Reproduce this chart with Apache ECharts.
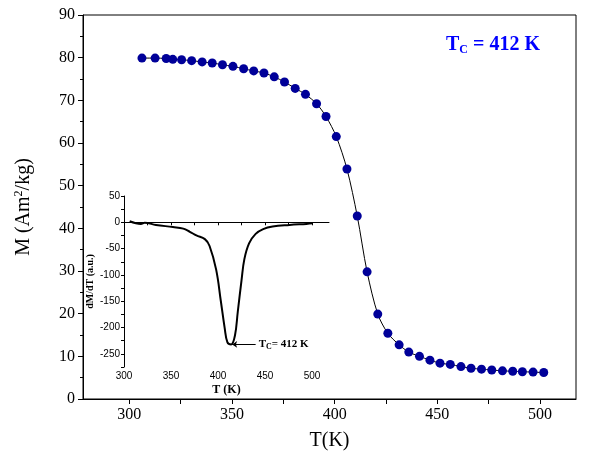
<!DOCTYPE html>
<html>
<head>
<meta charset="utf-8">
<script src="https://cdn.jsdelivr.net/npm/echarts@6/dist/echarts.min.js"></script>
<style>html,body{margin:0;padding:0;background:#fff}#main{width:589px;height:464px}</style>
</head>
<body>
<div id="main"></div>
<script>
// 主图: M(T)
var tempK = [306.2, 312.6, 318.0, 321.2, 325.5, 330.4, 335.5, 340.4, 345.4, 350.5, 355.7, 360.6, 365.6, 370.6, 375.6, 380.8, 385.8, 391.2, 395.8, 400.8, 406.0, 411.0, 415.8, 421.0, 425.9, 431.4, 436.1, 441.3, 446.4, 451.3, 456.3, 461.5, 466.4, 471.5, 476.5, 481.7, 486.7, 491.4, 496.6, 501.8];
var magM = [79.9, 79.9, 79.8, 79.6, 79.5, 79.3, 79.0, 78.75, 78.35, 77.96, 77.4, 76.9, 76.4, 75.5, 74.3, 72.8, 71.4, 69.2, 66.2, 61.5, 53.9, 42.9, 29.8, 19.9, 15.4, 12.7, 11.0, 10.0, 9.1, 8.4, 8.1, 7.6, 7.2, 7.0, 6.8, 6.6, 6.5, 6.4, 6.3, 6.2];
// 插图: dM/dT
var insetT = [306, 318, 322, 334, 352, 363, 370, 377, 386, 391, 398, 403, 407, 410, 414, 418, 421, 425, 428, 433, 440, 448, 458, 476, 494, 501];
var insetD = [2, -3, -1, -5, -9, -12, -18, -25, -32, -45, -90, -150, -200, -228, -232, -215, -170, -110, -70, -40, -22, -13, -8, -5, -3, -2];
var mainXTicks = [300, 350, 400, 450, 500];
var insetXTicks = [300, 350, 400, 450, 500];
var insetYTicks = [-250, -200, -150, -100, -50, 0, 50];

var font = 'Liberation Serif';
var zip = function(a, b){ return a.map(function(v, i){ return [v, b[i]]; }); };

var option = {
	animation: false,
	grid: [
		{left: 83, top: 15, right: 13, bottom: 65, show: true, borderColor: '#000', borderWidth: 1, backgroundColor: 'transparent'},
		{left: 124, top: 196, width: 205, height: 171}
	],
	xAxis: [
		{gridIndex: 0, type: 'value', min: 277.5, max: 517.5,
			name: 'T(K)', nameLocation: 'middle', nameGap: 32, nameTextStyle: {fontFamily: font, fontSize: 20, color: '#000'},
			axisLine: {lineStyle: {color: '#000'}}, splitLine: {show: false},
			axisTick: {customValues: [300, 325, 350, 375, 400, 425, 450, 475, 500], lineStyle: {color: '#000'}},
			axisLabel: {customValues: mainXTicks, fontFamily: font, fontSize: 16, color: '#000'}},
		{gridIndex: 1, type: 'value', min: 300, max: 518,
			name: 'T (K)', nameLocation: 'middle', nameGap: 17, nameTextStyle: {fontFamily: font, fontSize: 12, fontWeight: 'bold', color: '#000'},
			axisLine: {lineStyle: {color: '#000'}}, splitLine: {show: false},
			axisTick: {length: 3, customValues: [300, 325, 350, 375, 400, 425, 450, 475, 500], lineStyle: {color: '#000'}},
			axisLabel: {customValues: insetXTicks, fontFamily: 'Liberation Sans', fontSize: 10, color: '#000', margin: 4}}
	],
	yAxis: [
		{gridIndex: 0, type: 'value', min: 0, max: 90, interval: 10,
			name: '{a|M (Am}{s|2}{a|/kg)}', nameLocation: 'middle', nameGap: 48,
			nameTextStyle: {rich: {a: {fontFamily: font, fontSize: 20, color: '#000'}, s: {fontFamily: font, fontSize: 12, color: '#000', padding: [0, 0, 10, 0]}}},
			axisLine: {lineStyle: {color: '#000'}}, splitLine: {show: false},
			axisTick: {lineStyle: {color: '#000'}}, minorTick: {show: true, splitNumber: 2},
			axisLabel: {fontFamily: font, fontSize: 16, color: '#000'}},
		{gridIndex: 1, type: 'value', min: -275, max: 50,
			name: 'dM/dT (a.u.)', nameLocation: 'middle', nameGap: 29, nameTextStyle: {fontFamily: font, fontSize: 10, fontWeight: 'bold', color: '#000'},
			axisLine: {show: true, lineStyle: {color: '#000'}}, splitLine: {show: false},
			axisTick: {length: 3, customValues: [-275, -250, -225, -200, -175, -150, -125, -100, -75, -50, -25, 0, 25, 50], lineStyle: {color: '#000'}},
			axisLabel: {customValues: insetYTicks, fontFamily: 'Liberation Sans', fontSize: 10, color: '#000', margin: 4}}
	],
	series: [
		{type: 'line', xAxisIndex: 0, yAxisIndex: 0, data: zip(tempK, magM), smooth: 0.3,
			symbol: 'circle', symbolSize: 9, lineStyle: {color: '#000', width: 1}, itemStyle: {color: '#000099'}},
		{type: 'line', xAxisIndex: 1, yAxisIndex: 1, data: zip(insetT, insetD), smooth: 0.4,
			showSymbol: false, lineStyle: {color: '#000', width: 2},
			markLine: {symbol: ['none', 'arrow'], symbolSize: 5, silent: true,
				lineStyle: {color: '#000', width: 1, type: 'solid'},
				label: {position: 'start', distance: 3, formatter: '{a|T}{b|C}{a|= 412 K}',
					rich: {a: {fontFamily: font, fontSize: 11, fontWeight: 'bold', color: '#000'},
						b: {fontFamily: font, fontSize: 8, fontWeight: 'bold', color: '#000', verticalAlign: 'bottom', padding: [6, 0, 0, 0]}}},
				data: [[{coord: [440, -232]}, {coord: [415, -232]}]]}}
	],
	graphic: [
		{type: 'text', left: 446, top: 35, style: {
			text: '{a|T}{b|C}{a| = 412 K}', fill: '#0000ff',
			rich: {a: {fontFamily: font, fontSize: 20, fontWeight: 'bold', fill: '#0000ff'},
				b: {fontFamily: font, fontSize: 12, fontWeight: 'bold', fill: '#0000ff', padding: [10, 0, 0, 0]}}}}
	]
};
echarts.init(document.getElementById('main')).setOption(option);
</script>
</body>
</html>
